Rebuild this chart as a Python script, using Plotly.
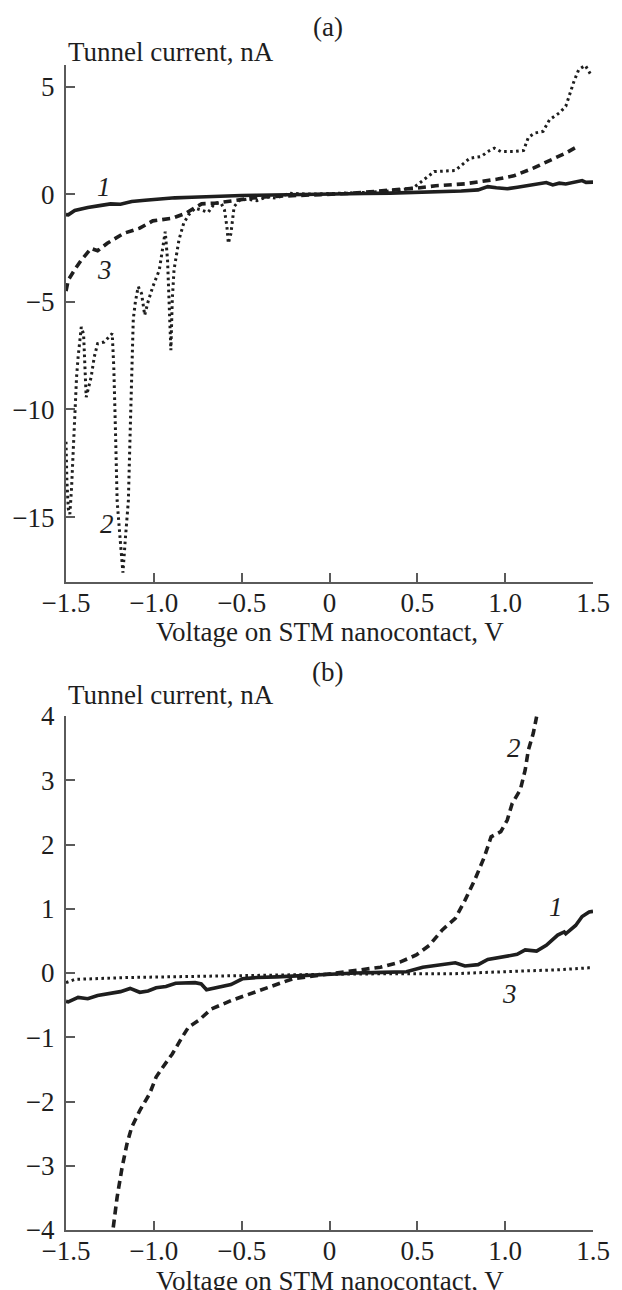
import plotly.graph_objects as go

# ---------------- data: panel (a) ----------------
a1_v = [-1.5, -1.487, -1.45, -1.376, -1.30, -1.246, -1.19, -1.126, -1.05, -0.969, -0.88, -0.784, -0.69,
        -0.598, -0.5, -0.413, -0.3, -0.191, -0.1, -0.024, 0.1, 0.2, 0.346, 0.45, 0.531, 0.65, 0.75, 0.846,
        0.901, 0.95, 1.012, 1.07, 1.123, 1.18, 1.234, 1.271, 1.308, 1.345, 1.382, 1.41, 1.438, 1.46, 1.484, 1.5]
a1_i = [-0.95, -0.96, -0.76, -0.62, -0.52, -0.45, -0.47, -0.34, -0.28, -0.22, -0.17, -0.14, -0.1,
        -0.08, -0.06, -0.05, -0.03, 0.0, 0.0, -0.01, 0.01, 0.03, 0.05, 0.07, 0.09, 0.12, 0.15, 0.2,
        0.35, 0.3, 0.25, 0.32, 0.39, 0.45, 0.54, 0.43, 0.51, 0.47, 0.54, 0.57, 0.63, 0.55, 0.54, 0.56]

a2_v = [-1.5, -1.495, -1.487, -1.478, -1.468, -1.459, -1.45, -1.44, -1.431, -1.413, -1.40, -1.394, -1.385,
        -1.357, -1.339, -1.32, -1.283, -1.237, -1.228, -1.218, -1.209, -1.191, -1.176, -1.163, -1.145,
        -1.135, -1.126, -1.117, -1.105, -1.089, -1.07, -1.052, -1.033, -1.006, -0.969, -0.95, -0.935,
        -0.922, -0.912, -0.903, -0.895, -0.885, -0.876, -0.857, -0.83, -0.802, -0.765, -0.709, -0.69,
        -0.654, -0.617, -0.598, -0.584, -0.576, -0.561, -0.552, -0.543, -0.515, -0.469, -0.413, -0.358,
        -0.302, -0.228, -0.1, 0.0, 0.1, 0.2, 0.3, 0.401, 0.475, 0.512, 0.559, 0.596, 0.716, 0.753, 0.799,
        0.864, 0.901, 0.938, 0.975, 1.049, 1.105, 1.132, 1.169, 1.216, 1.253, 1.308, 1.345, 1.364, 1.392,
        1.419, 1.456, 1.484]
a2_i = [-11.5, -13.3, -14.6, -14.86, -13.6, -11.9, -10.05, -8.5, -7.56, -6.17, -6.5, -8.03, -9.43,
        -8.5, -7.56, -6.94, -6.87, -6.47, -8.03, -11.13, -14.24, -16.1, -17.58, -16.1, -14.24,
        -11.13, -8.03, -5.8, -5.0, -4.3, -4.61, -5.62, -5.0, -4.3, -3.53, -2.59, -1.74,
        -3.06, -4.9, -7.25, -4.9, -3.5, -3.06, -2.13, -1.35, -0.96, -0.65, -0.81, -0.84,
        -0.42, -0.42, -0.73, -1.51, -2.28, -1.82, -1.2, -0.58, -0.3, -0.23, -0.3, -0.13,
        -0.18, 0.04, 0.0, 0.02, 0.05, 0.08, 0.12, 0.23, 0.28, 0.51, 0.79, 1.05, 1.1, 1.36, 1.67,
        1.75, 1.98, 2.14, 1.98, 1.98, 2.03, 2.64, 2.84, 2.92, 3.46, 3.77, 4.08, 4.55, 5.25,
        5.79, 5.98, 5.6]

a3_v = [-1.5, -1.487, -1.45, -1.413, -1.357, -1.32, -1.265, -1.172, -1.08, -1.006, -0.895, -0.82, -0.728,
        -0.654, -0.543, -0.45, -0.339, -0.2, -0.05, 0.1, 0.25, 0.383, 0.494, 0.605, 0.771, 0.957, 1.049,
        1.16, 1.271, 1.345, 1.419]
a3_i = [-4.5, -3.99, -3.5, -3.06, -2.52, -2.63, -2.28, -1.82, -1.58, -1.24, -1.12, -0.89, -0.45,
        -0.42, -0.3, -0.19, -0.11, -0.05, -0.02, 0.03, 0.12, 0.2, 0.28, 0.39, 0.48, 0.7, 0.85,
        1.21, 1.63, 1.91, 2.25]

# ---------------- data: panel (b) ----------------
b1_v = [-1.5, -1.487, -1.431, -1.376, -1.32, -1.246, -1.19, -1.135, -1.08, -1.033, -0.987, -0.931, -0.876,
        -0.765, -0.73, -0.7, -0.635, -0.561, -0.496, -0.413, -0.3, -0.228, -0.1, 0.031, 0.15, 0.3, 0.438,
        0.531, 0.623, 0.716, 0.771, 0.846, 0.901, 0.994, 1.068, 1.114, 1.179, 1.234, 1.299, 1.336, 1.345,
        1.401, 1.438, 1.478, 1.5]
b1_i = [-0.44, -0.45, -0.38, -0.40, -0.35, -0.31, -0.29, -0.24, -0.3, -0.28, -0.23, -0.21, -0.16,
        -0.15, -0.17, -0.26, -0.22, -0.18, -0.09, -0.07, -0.06, -0.05, -0.03, -0.01, 0.0, 0.01, 0.02,
        0.09, 0.12, 0.16, 0.11, 0.13, 0.21, 0.26, 0.29, 0.36, 0.34, 0.43, 0.59, 0.64, 0.61,
        0.74, 0.88, 0.95, 0.96]

b2_v = [-1.231, -1.209, -1.181, -1.153, -1.126, -1.08, -1.024, -0.987, -0.95, -0.895, -0.839, -0.802,
        -0.746, -0.672, -0.561, -0.431, -0.3, -0.209, -0.1, -0.02, 0.1, 0.198, 0.29, 0.401, 0.494, 0.568,
        0.642, 0.716, 0.771, 0.827, 0.882, 0.92, 0.975, 1.012, 1.04, 1.086, 1.114, 1.132, 1.16, 1.179]
b2_i = [-3.96, -3.49, -3.03, -2.66, -2.40, -2.14, -1.88, -1.62, -1.47, -1.26, -1.0, -0.84,
        -0.74, -0.56, -0.43, -0.30, -0.17, -0.09, -0.05, -0.02, 0.02, 0.05, 0.09, 0.17, 0.28, 0.43,
        0.67, 0.85, 1.13, 1.45, 1.81, 2.12, 2.2, 2.38, 2.64, 2.85, 3.16, 3.47, 3.73, 3.99]

b3_v = [-1.5, -1.487, -1.45, -1.153, -0.784, -0.487, -0.024, 0.4, 0.716, 1.086, 1.3, 1.475, 1.5]
b3_i = [-0.15, -0.14, -0.1, -0.07, -0.05, -0.04, -0.02, -0.01, -0.01, 0.03, 0.05, 0.08, 0.08]

# ticks / labels
x_tickvals = [-1.5, -1.0, -0.5, 0, 0.5, 1.0, 1.5]
x_ticktext = ["\u22121.5", "\u22121.0", "\u22120.5", "0", "0.5", "1.0", "1.5"]
ya_tickvals = [5, 0, -5, -10, -15]
ya_ticktext = ["5", "0", "\u22125", "\u221210", "\u221215"]
yb_tickvals = [4, 3, 2, 1, 0, -1, -2, -3, -4]
yb_ticktext = ["4", "3", "2", "1", "0", "\u22121", "\u22122", "\u22123", "\u22124"]

FONT = "Liberation Serif"
INK = "#1e1e1e"
AX = "#5a5a5a"
FS = 27

solid = dict(color=INK, width=3.6)
dashed = dict(color=INK, width=3.6, dash="8px,5px")
dotted = dict(color=INK, width=3.0, dash="2.6px,3.4px")

fig = go.Figure()
fig.add_trace(go.Scatter(x=a1_v, y=a1_i, mode="lines", line=solid, xaxis="x", yaxis="y"))
fig.add_trace(go.Scatter(x=a3_v, y=a3_i, mode="lines", line=dashed, xaxis="x", yaxis="y"))
fig.add_trace(go.Scatter(x=a2_v, y=a2_i, mode="lines", line=dotted, xaxis="x", yaxis="y"))
fig.add_trace(go.Scatter(x=b1_v, y=b1_i, mode="lines", line=solid, xaxis="x2", yaxis="y2"))
fig.add_trace(go.Scatter(x=b2_v, y=b2_i, mode="lines", line=dashed, xaxis="x2", yaxis="y2"))
fig.add_trace(go.Scatter(x=b3_v, y=b3_i, mode="lines", line=dotted, xaxis="x2", yaxis="y2"))

axis_common = dict(showgrid=False, zeroline=False, showline=True, linecolor=AX, linewidth=2,
                   ticks="inside", ticklen=9, tickwidth=1.6, tickcolor=AX,
                   tickfont=dict(family=FONT, size=FS, color=INK), fixedrange=True)

fig.update_layout(
    width=622, height=1290,
    margin=dict(l=64, r=18, t=65, b=60),
    paper_bgcolor="white", plot_bgcolor="white",
    showlegend=False,
    font=dict(family=FONT, size=FS, color=INK),
    xaxis=dict(domain=[0, 1], anchor="y", range=[-1.5, 1.5], tickvals=x_tickvals, ticktext=x_ticktext,
               ticklabelstandoff=-4, **axis_common),
    yaxis=dict(domain=[0.5565, 1], anchor="x", range=[-18, 6], tickvals=ya_tickvals, ticktext=ya_ticktext,
               ticklabelstandoff=4, **axis_common),
    xaxis2=dict(domain=[0, 1], anchor="y2", range=[-1.5, 1.5], tickvals=x_tickvals, ticktext=x_ticktext,
                ticklabelstandoff=-4, **axis_common),
    yaxis2=dict(domain=[0, 0.4412], anchor="x2", range=[-4, 4], tickvals=yb_tickvals, ticktext=yb_ticktext,
                ticklabelstandoff=4, **axis_common),
)

def txt(text, x, y, xref="paper", yref="paper", xanchor="center", italic=False):
    fig.add_annotation(text=text, x=x, y=y, xref=xref, yref=yref, xanchor=xanchor, yanchor="middle",
                       showarrow=False,
                       font=dict(family=FONT, size=FS, color=INK, style="italic" if italic else "normal"))

# panel titles and axis titles
txt("(a)", 0.497, 1.0326)
txt("Tunnel current, nA", 0.0, 1.0112, xanchor="left")
txt("Voltage on STM nanocontact, V", 0.5, 0.513)
txt("(b)", 0.497, 0.479)
txt("Tunnel current, nA", 0.0, 0.4592, xanchor="left")
txt("Voltage on STM nanocontact, V", 0.5, -0.044)

# curve labels
txt("1", -1.283, 0.35, "x", "y", italic=True)
txt("3", -1.283, -3.53, "x", "y", italic=True)
txt("2", -1.268, -15.3, "x", "y", italic=True)
txt("2", 1.049, 3.5, "x2", "y2", italic=True)
txt("1", 1.29, 1.03, "x2", "y2", italic=True)
txt("3", 1.025, -0.33, "x2", "y2", italic=True)

fig.write_html("out.html")
